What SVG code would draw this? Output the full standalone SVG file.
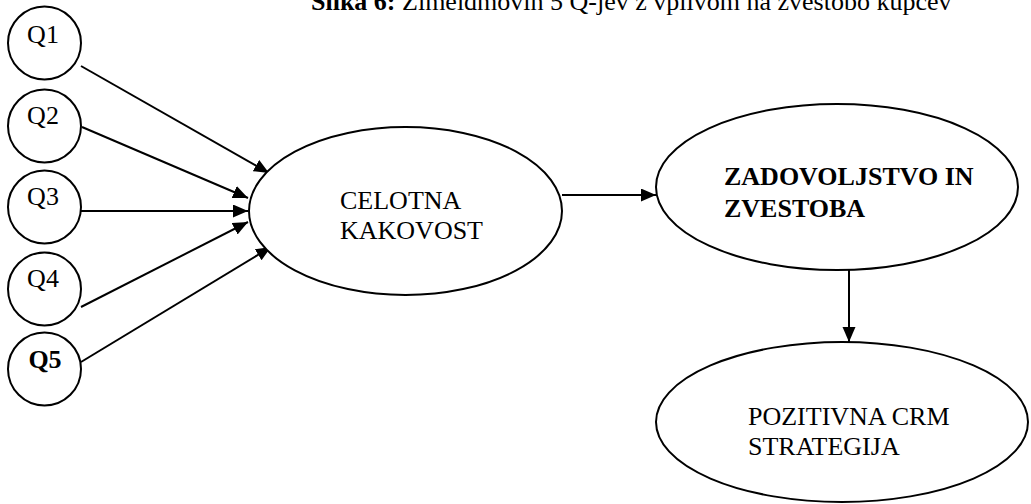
<svg xmlns="http://www.w3.org/2000/svg" width="1031" height="504" viewBox="0 0 1031 504">
<defs>
<style>
.shape{fill:#fff;stroke:#000;stroke-width:2}
.edge{stroke:#000;stroke-width:2;fill:none}
text{font-family:"Liberation Serif","Times New Roman",serif;font-size:26px;fill:#000}
.b{font-weight:bold}
</style>
<marker id="arr" markerUnits="userSpaceOnUse" markerWidth="16" markerHeight="14" refX="15" refY="6.5" orient="auto">
<path d="M0,0 L15,6.5 L0,13 z" fill="#000"/>
</marker>
</defs>
<rect width="1031" height="504" fill="#fff"/>
<text x="311" y="10"><tspan class="b">Slika 6:</tspan> Zimeldmovih 5 Q-jev z vplivom na zvestobo kupcev</text>
<g id="connectors">
<line class="edge" x1="81" y1="66" x2="269" y2="173" marker-end="url(#arr)"/>
<line class="edge" x1="82" y1="127" x2="248" y2="198" marker-end="url(#arr)"/>
<line class="edge" x1="81" y1="211" x2="248" y2="211" marker-end="url(#arr)"/>
<line class="edge" x1="81" y1="307" x2="248" y2="222" marker-end="url(#arr)"/>
<line class="edge" x1="81" y1="362" x2="271" y2="247" marker-end="url(#arr)"/>
<line class="edge" x1="562" y1="195" x2="656" y2="195" marker-end="url(#arr)"/>
<line class="edge" x1="849" y1="270" x2="849" y2="342" marker-end="url(#arr)"/>
</g>
<g id="q1"><circle class="shape" cx="44.5" cy="43" r="36.5"/><text x="43" y="43" text-anchor="middle">Q1</text></g>
<g id="q2"><circle class="shape" cx="44.5" cy="126" r="36.5"/><text x="43" y="124" text-anchor="middle">Q2</text></g>
<g id="q3"><circle class="shape" cx="44.5" cy="207" r="36.5"/><text x="43" y="205" text-anchor="middle">Q3</text></g>
<g id="q4"><circle class="shape" cx="44.5" cy="289" r="36.5"/><text x="43" y="287" text-anchor="middle">Q4</text></g>
<g id="q5"><circle class="shape" cx="44.5" cy="369" r="36.5"/><text class="b" x="45" y="368" text-anchor="middle">Q5</text></g>
<g id="celotna"><ellipse class="shape" cx="405.5" cy="211" rx="156.5" ry="84"/><text x="340" y="209">CELOTNA</text><text x="340" y="239">KAKOVOST</text></g>
<g id="zadovoljstvo"><ellipse class="shape" cx="837" cy="187" rx="181" ry="83"/><text class="b" x="724" y="185">ZADOVOLJSTVO IN</text><text class="b" x="724" y="217">ZVESTOBA</text></g>
<g id="pozitivna"><ellipse class="shape" cx="842" cy="422" rx="186" ry="80"/><text x="748" y="425">POZITIVNA CRM</text><text x="748" y="455">STRATEGIJA</text></g>
</svg>
